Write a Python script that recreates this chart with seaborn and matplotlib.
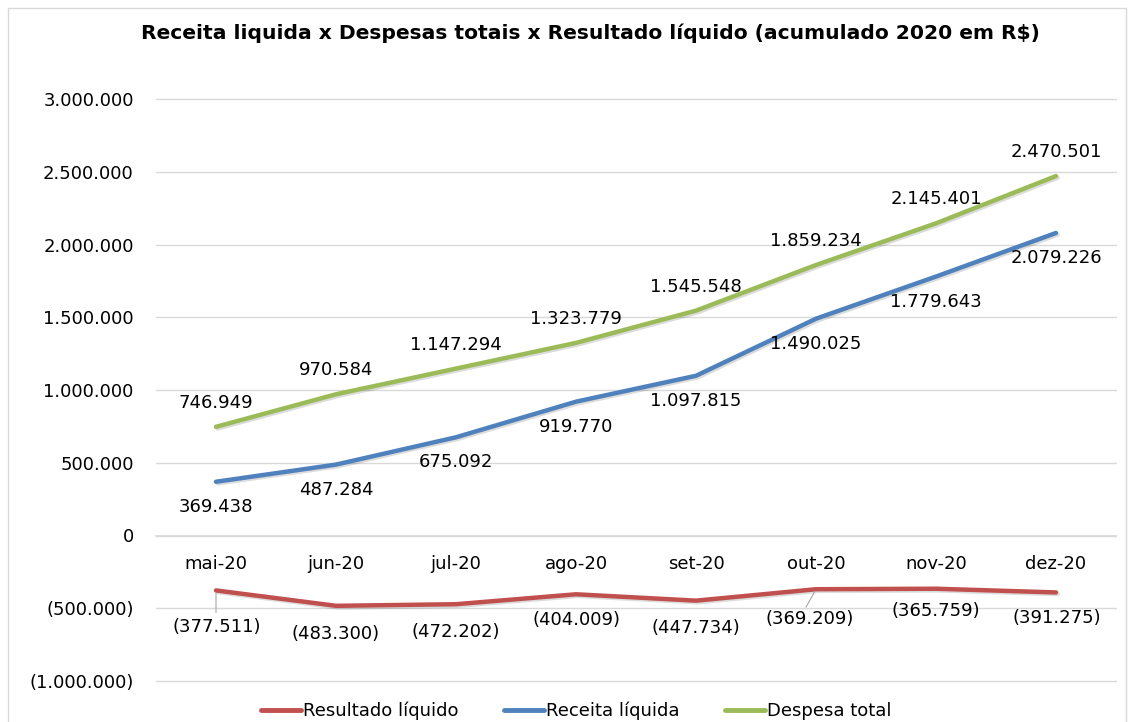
import matplotlib
matplotlib.use("Agg")
import matplotlib.pyplot as plt
import matplotlib.patheffects as pe
from matplotlib.ticker import FuncFormatter
from matplotlib.lines import Line2D
import pandas as pd
import seaborn as sns

months = ["mai-20", "jun-20", "jul-20", "ago-20", "set-20", "out-20", "nov-20", "dez-20"]
resultado = [-377511, -483300, -472202, -404009, -447734, -369209, -365759, -391275]
receita = [369438, 487284, 675092, 919770, 1097815, 1490025, 1779643, 2079226]
despesa = [746949, 970584, 1147294, 1323779, 1545548, 1859234, 2145401, 2470501]
series_names = ["Resultado líquido", "Receita líquida", "Despesa total"]

COLORS = {"Resultado líquido": "#C0504D", "Receita líquida": "#4F81BD", "Despesa total": "#9BBB59"}
GRID = "#D9D9D9"
FS = 13


def fmt(v, pos=None):
    s = f"{abs(v):,.0f}".replace(",", ".")
    return f"({s})" if v < 0 else s


df = pd.DataFrame({
    "mes": months * 3,
    "valor": resultado + receita + despesa,
    "serie": [series_names[0]] * 8 + [series_names[1]] * 8 + [series_names[2]] * 8,
})

sns.set_theme(style="white")
plt.rcParams["font.family"] = ["DejaVu Sans"]
plt.rcParams["text.color"] = "black"
plt.rcParams["xtick.color"] = "black"
plt.rcParams["ytick.color"] = "black"

fig = plt.figure(figsize=(11.34, 7.22), dpi=100)
ax = fig.add_axes([156 / 1134, 1 - 681 / 722, 960 / 1134, (681 - 99) / 722])

sns.lineplot(data=df, x="mes", y="valor", hue="serie", palette=COLORS, sort=False,
             linewidth=3.2, ax=ax, legend=False)
for ln in ax.get_lines():
    ln.set_path_effects([pe.SimpleLineShadow(offset=(1.2, -1.2), alpha=0.15), pe.Normal()])
    ln.set_solid_capstyle("round")

ax.set_xlim(-0.5, len(months) - 0.5)
ax.set_ylim(-1_000_000, 3_000_000)
ax.set_yticks(range(-1_000_000, 3_000_001, 500_000))
ax.yaxis.set_major_formatter(FuncFormatter(fmt))
ax.grid(axis="y", color=GRID, linewidth=1)
ax.grid(axis="x", visible=False)
for gl in ax.get_ygridlines():
    gl.set_clip_on(False)
ax.set_axisbelow(True)
for s in ["top", "right", "left"]:
    ax.spines[s].set_visible(False)
ax.spines["bottom"].set_position(("data", 0))
ax.spines["bottom"].set_color(GRID)
ax.tick_params(axis="x", length=0, pad=14, labelsize=FS)
ax.tick_params(axis="y", length=0, pad=16, labelsize=FS)
ax.set_xlabel("")
ax.set_ylabel("")

# data labels
for i, v in enumerate(despesa):
    ax.annotate(fmt(v), (i, v), xytext=(0, 24), textcoords="offset pixels",
                ha="center", va="center", fontsize=FS)
for i, v in enumerate(receita):
    ax.annotate(fmt(v), (i, v), xytext=(0, -25), textcoords="offset pixels",
                ha="center", va="center", fontsize=FS)
red_off = [(1, -37), (0, -28), (0, -28), (0, -26), (0, -27), (-6, -30), (0, -22), (1, -26)]
for i, v in enumerate(resultado):
    dx, dy = red_off[i]
    ax.annotate(fmt(v), (i, v), xytext=(dx, dy), textcoords="offset pixels",
                ha="center", va="center", fontsize=FS)
# leader lines
for i, (x2, y2) in [(0, (0, -22)), (5, (-10, -18))]:
    ax.annotate("", (i, resultado[i]), xytext=(x2, y2), textcoords="offset pixels",
                arrowprops=dict(arrowstyle="-", color="#A6A6A6", lw=0.8, shrinkA=0, shrinkB=2))

fig.suptitle("Receita liquida x Despesas totais x Resultado líquido (acumulado 2020 em R$)",
             x=0.521, y=1 - 33 / 722, va="center", fontsize=14.6, fontweight="bold",
             color="black")

handles = [Line2D([], [], color=COLORS[n], linewidth=3.5, solid_capstyle="round") for n in series_names]
fig.legend(handles, series_names, loc="center", bbox_to_anchor=(0.508, 1 - 711 / 722), ncol=3,
           frameon=False, fontsize=FS, handlelength=2.2, handletextpad=0.1, columnspacing=2.55)

# chart border
fig.add_artist(Line2D([8 / 1134, 8 / 1134, 1126 / 1134, 1126 / 1134],
                      [0, 1 - 8 / 722, 1 - 8 / 722, 0], transform=fig.transFigure,
                      color=GRID, linewidth=1))

fig.savefig("out.png", dpi=100)
